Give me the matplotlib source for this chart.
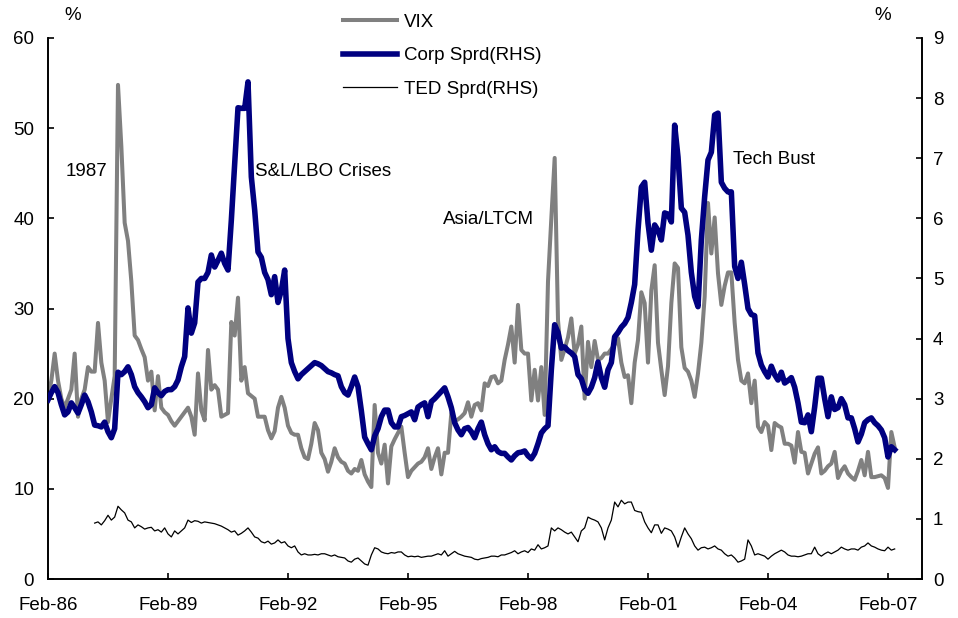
import numpy as np
import matplotlib
matplotlib.use("Agg")
import matplotlib.pyplot as plt
from matplotlib.lines import Line2D

plt.rcParams['font.family'] = ['Liberation Sans', 'DejaVu Sans']

# Monthly data, starting Feb-86
vix = [
    20, 22, 25, 22, 20, 19, 20, 21, 25, 18, 20, 21,
    23.5, 23, 23, 28.4, 24, 22, 17.4, 20, 22.5, 54.8, 48, 39.5,
    37.5, 33, 27, 26.5, 25.5, 24.6, 22, 23, 18.7, 22.5, 19, 18.5,
    18.2, 17.5, 17, 17.5, 18, 18.5, 19, 18, 16, 22.8, 18.7, 17.6,
    25.4, 21, 21.5, 21, 18, 18.2, 18.4, 28.5, 27, 31.2, 22, 23.5,
    20.6, 20.3, 20, 18, 18, 18, 16.5, 15.6, 16.4, 19, 20.2, 19,
    17, 16.2, 16, 16, 14.5, 13.5, 13.3, 15, 17.3, 16.5, 14, 13.3,
    11.9, 13, 14.5, 13.5, 13, 12.8, 12, 11.7, 12.2, 12, 13.2, 11.6,
    10.8, 10.2, 19.3, 14, 12.8, 14.9, 10.6, 14.7, 15.5, 16.2, 16.9, 14,
    11.3, 12, 12.4, 12.8, 13, 13.5, 14.5, 12.2, 13.5, 14.5, 11.6, 14,
    14, 18.4, 17.5, 17.7, 18, 18.4, 19.6, 18, 19.3, 19.5, 18.7, 21.7,
    21.4, 22.4, 22.5, 21.7, 22, 24.3, 26, 28, 24, 30.4, 25.4, 25,
    25, 19.8, 23.2, 19.8, 23.5, 18.2, 33, 40, 46.7, 28.7, 24.3, 25.5,
    26.8, 28.9, 25, 26, 28, 20, 26.3, 23.5, 26.4, 24.3, 24.5, 25,
    25, 25.5, 26, 26.7, 24, 22.4, 22.6, 19.5, 24, 26.5, 31.8, 30.6,
    24, 32, 34.8, 26.2, 23.2, 20.4, 23.6, 30.6, 35, 34.5, 25.7, 23.4,
    23, 22, 20.2, 22.8, 26.2, 31.3, 41.7, 36.1, 40.1, 33.9, 30.4, 32.5,
    34, 34, 28.4, 24.3, 22, 21.7, 22.8, 19.5, 22, 16.9, 16.3, 17.4,
    17, 14.3, 17.3, 17, 16.8, 15, 15, 14.8, 12.9, 16.3, 14.1, 14,
    11.7, 12.8, 13.9, 14.6, 11.7, 12, 12.5, 12.8, 14.1, 11.2, 12, 12.5,
    11.7, 11.3, 11, 12, 13.2, 11.5, 14.1, 11.3, 11.3, 11.4, 11.5, 11.2,
    10.1, 16.3, 14.6,
]

corp = [
    2.98, 3.1, 3.2, 3.1, 2.9, 2.73, 2.78, 2.93, 2.85, 2.76, 2.9, 3.06,
    2.95, 2.78, 2.56, 2.55, 2.53, 2.61, 2.45, 2.35, 2.5, 3.44, 3.4, 3.45,
    3.53, 3.4, 3.2, 3.1, 3.03, 2.95, 2.85, 2.9, 3.18, 3.1, 3.05, 3.12,
    3.15, 3.15, 3.2, 3.31, 3.53, 3.7, 4.51, 4.09, 4.26, 4.94, 5.0, 5.0,
    5.1, 5.39, 5.19, 5.3, 5.42, 5.25, 5.14, 5.97, 6.9, 7.84, 7.83, 7.83,
    8.27, 6.69, 6.14, 5.44, 5.35, 5.1, 4.98, 4.73, 5.03, 4.6, 4.8, 5.14,
    4.0, 3.6, 3.45, 3.33, 3.4, 3.45, 3.5, 3.55, 3.6, 3.58, 3.55, 3.5,
    3.45, 3.43, 3.4, 3.38, 3.2, 3.1, 3.06, 3.2, 3.36, 3.2, 2.8, 2.36,
    2.25, 2.15, 2.38, 2.5, 2.7, 2.81, 2.81, 2.6, 2.53, 2.53, 2.7, 2.72,
    2.75, 2.78, 2.65, 2.86, 2.9, 2.93, 2.7, 2.95, 3.0, 3.06, 3.12, 3.18,
    3.03, 2.85, 2.6, 2.48, 2.4, 2.5, 2.52, 2.45, 2.35, 2.5, 2.61, 2.4,
    2.25, 2.15, 2.2, 2.12, 2.09, 2.09, 2.03, 1.98, 2.05, 2.1, 2.11, 2.13,
    2.05, 2.0, 2.09, 2.25, 2.43, 2.5, 2.55, 3.48, 4.23, 4.1, 3.84, 3.86,
    3.8, 3.76, 3.7, 3.4, 3.33, 3.15, 3.09, 3.19, 3.35, 3.61, 3.35, 3.19,
    3.48, 3.6, 4.03, 4.1, 4.19, 4.25, 4.35, 4.6, 4.9, 5.8, 6.52, 6.6,
    5.92, 5.47, 5.89, 5.8, 5.64, 6.09, 6.07, 5.94, 7.55, 7.02, 6.17, 6.1,
    5.72, 5.1, 4.7, 4.53, 5.64, 6.36, 6.97, 7.1, 7.72, 7.75, 6.6, 6.5,
    6.44, 6.44, 5.2, 5.0, 5.27, 4.9, 4.5, 4.4, 4.38, 3.76, 3.56, 3.45,
    3.36, 3.54, 3.4, 3.31, 3.44, 3.26, 3.3, 3.35, 3.19, 2.93, 2.61, 2.6,
    2.73, 2.45, 2.86, 3.34, 3.34, 3.0, 2.7, 3.03, 2.82, 2.85, 3.0, 2.9,
    2.68, 2.68, 2.5, 2.28, 2.41, 2.6, 2.65, 2.68, 2.6, 2.55, 2.48, 2.35,
    2.03, 2.2, 2.15,
]

ted_start = 14  # TED series begins Apr-87
ted = [
    0.93, 0.95, 0.9, 0.97, 1.06, 0.98, 1.03, 1.21, 1.15, 1.1,
    0.98, 0.95, 0.85, 0.9, 0.87, 0.83, 0.85, 0.86, 0.8, 0.82, 0.78, 0.85,
    0.75, 0.7, 0.8, 0.75, 0.8, 0.85, 0.98, 0.94, 0.97, 0.96, 0.93, 0.95,
    0.94, 0.93, 0.92, 0.9, 0.88, 0.85, 0.82, 0.78, 0.8, 0.73, 0.76, 0.8,
    0.85, 0.78, 0.7, 0.68, 0.62, 0.6, 0.63, 0.58, 0.6, 0.65, 0.6, 0.62,
    0.55, 0.52, 0.55, 0.45, 0.4, 0.42, 0.4, 0.4, 0.41, 0.4, 0.42, 0.42,
    0.4, 0.38, 0.4, 0.37, 0.36, 0.35, 0.3, 0.28, 0.33, 0.35, 0.3, 0.25,
    0.23, 0.4, 0.52, 0.5, 0.45, 0.43, 0.42, 0.44, 0.43, 0.45, 0.45, 0.4,
    0.37, 0.38, 0.37, 0.38, 0.36, 0.37, 0.38, 0.38, 0.4, 0.42, 0.4, 0.47,
    0.38, 0.42, 0.46, 0.42, 0.4, 0.38, 0.37, 0.36, 0.33, 0.32, 0.34, 0.35,
    0.36, 0.38, 0.38, 0.37, 0.4, 0.4, 0.42, 0.44, 0.47, 0.42, 0.45, 0.47,
    0.44, 0.5, 0.48, 0.57, 0.5, 0.52, 0.55, 0.85, 0.8, 0.85, 0.82, 0.78,
    0.75, 0.78, 0.7, 0.62, 0.8, 0.85, 1.03, 1.0, 0.98, 0.95, 0.85, 0.65,
    0.85, 0.98, 1.28, 1.2, 1.31, 1.25, 1.28, 1.28, 1.14, 1.12, 1.11, 0.95,
    0.85, 0.77, 0.9, 0.9, 0.76, 0.85, 0.83, 0.8, 0.7, 0.53, 0.7, 0.85,
    0.75, 0.67, 0.55, 0.48, 0.52, 0.53, 0.5, 0.52, 0.55, 0.5, 0.48, 0.42,
    0.38, 0.4, 0.35, 0.28, 0.3, 0.33, 0.65, 0.55, 0.4, 0.42, 0.4, 0.38,
    0.33, 0.38, 0.42, 0.45, 0.48, 0.45, 0.4, 0.38, 0.38, 0.37, 0.38, 0.4,
    0.42, 0.42, 0.53, 0.42, 0.38, 0.42, 0.45, 0.42, 0.45, 0.48, 0.53, 0.5,
    0.48, 0.5, 0.5, 0.48, 0.53, 0.55, 0.6, 0.55, 0.53, 0.5, 0.48, 0.47,
    0.53, 0.48, 0.5,
]

tick_labels = ['Feb-86', 'Feb-89', 'Feb-92', 'Feb-95', 'Feb-98', 'Feb-01', 'Feb-04', 'Feb-07']
annotations = [('1987', 5.3, 45.2), ('S&L/LBO Crises', 62.0, 45.2),
               ('Asia/LTCM', 118.5, 39.9), ('Tech Bust', 205.5, 46.5)]

n = len(vix)
x = np.arange(n)
x_ted = np.arange(ted_start, ted_start + len(ted))

FS = 13.5

fig = plt.figure(figsize=(9.58, 6.18), dpi=100)
ax = fig.add_axes([48/958, 1 - 579/618, (922-48)/958, (579-38)/618])
ax2 = ax.twinx()

l_vix, = ax.plot(x, vix, color='#808080', lw=2.9, solid_joinstyle='round', zorder=2)
l_corp, = ax2.plot(x, corp, color='#000080', lw=4.0, solid_joinstyle='round', zorder=3)
l_ted, = ax2.plot(x_ted, ted, color='black', lw=0.9, zorder=2)

ax.set_xlim(0, 262.2)
ax.set_ylim(0, 60)
ax2.set_ylim(0, 9)
ax.set_yticks(np.arange(0, 61, 10))
ax2.set_yticks(np.arange(0, 10, 1))
ax.set_xticks(np.arange(len(tick_labels)) * 36)
ax.set_xticklabels(tick_labels)

for a in (ax, ax2):
    a.spines['top'].set_visible(False)
    for s in a.spines.values():
        s.set_linewidth(1.2)
    a.tick_params(direction='in', length=4, width=1.2, labelsize=FS, colors='black')
ax.tick_params(axis='x', pad=13)
ax.tick_params(axis='y', pad=10)
ax2.tick_params(axis='y', pad=8)
ax.patch.set_visible(False)

fig.text(73/958, 1 - 15/618, '%', ha='center', va='center', fontsize=FS)
fig.text(883/958, 1 - 15/618, '%', ha='center', va='center', fontsize=FS)

for label, xm, yv in annotations:
    ax.text(xm, yv, label, ha='left', va='center', fontsize=FS)

handles = [Line2D([], [], color='#808080', lw=2.9),
           Line2D([], [], color='#000080', lw=4.0),
           Line2D([], [], color='black', lw=0.9)]
fig.legend(handles, ['VIX', 'Corp Sprd(RHS)', 'TED Sprd(RHS)'],
           loc='upper left', bbox_to_anchor=(335/958, 1 - 6/618), frameon=False,
           fontsize=FS, handlelength=2.9, handletextpad=0.38, labelspacing=0.88,
           borderaxespad=0)

fig.savefig('out.png', dpi=100)
